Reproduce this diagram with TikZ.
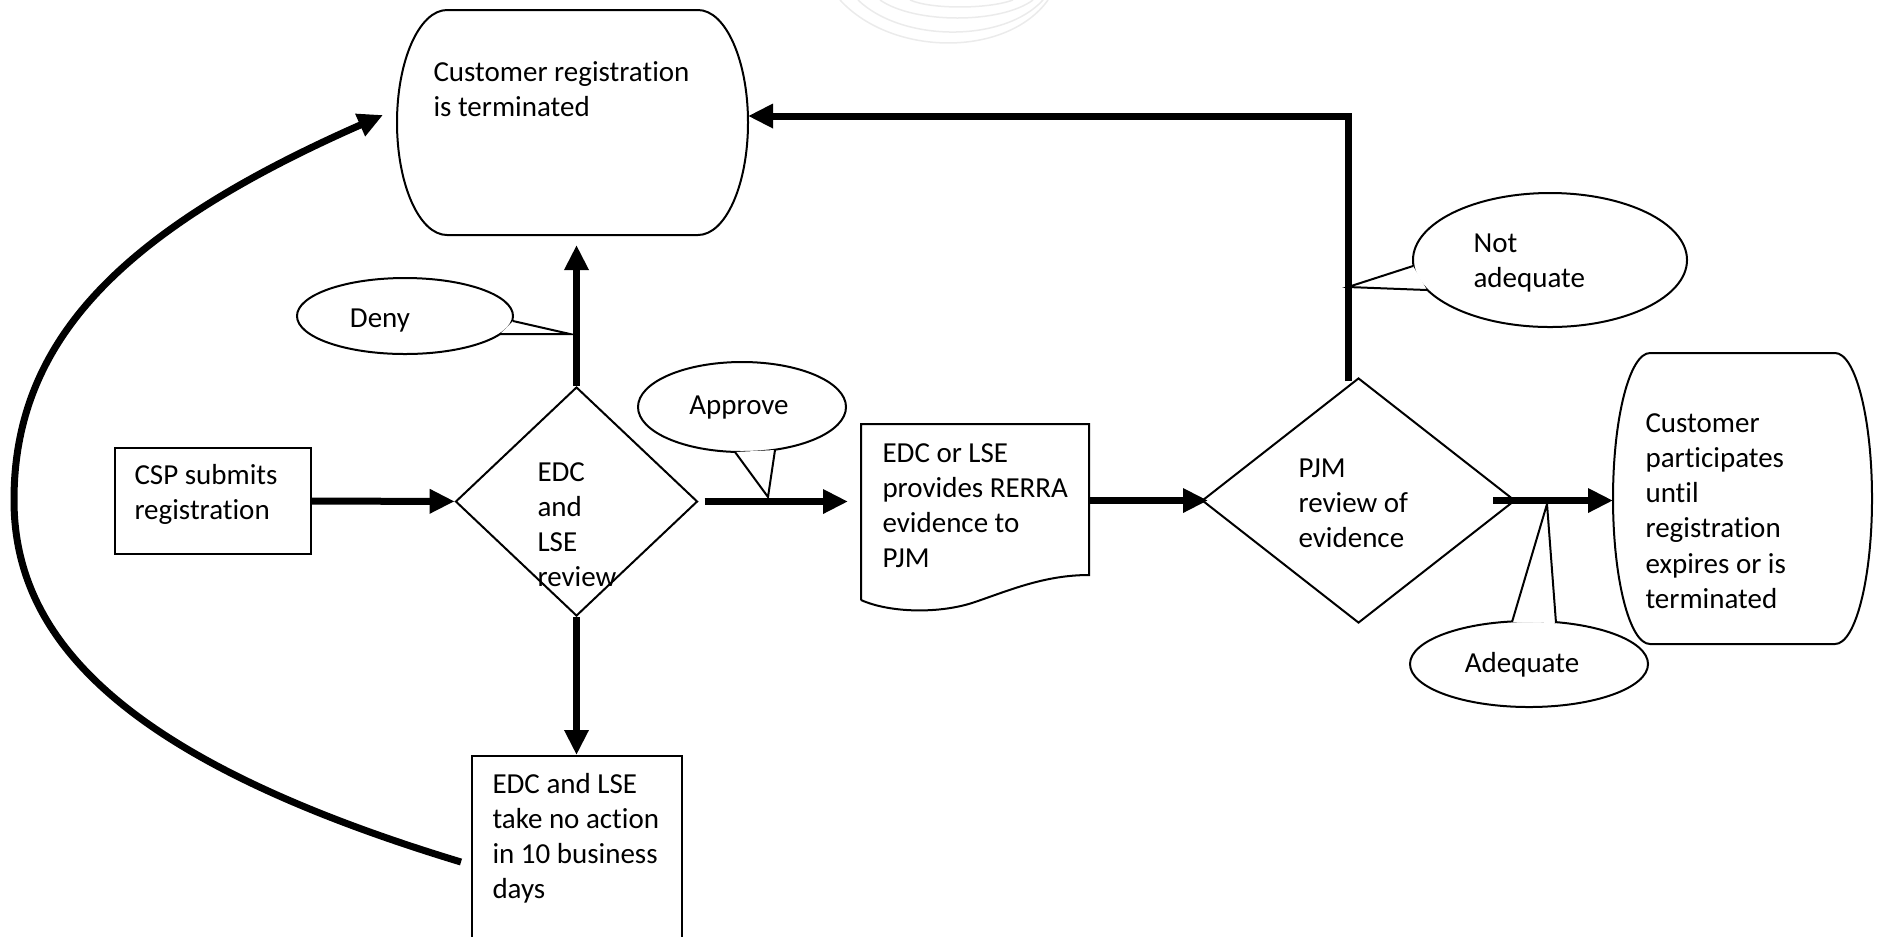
\documentclass[tikz,border=0pt]{standalone}
\usepackage{fontspec}
\setmainfont{Carlito}[Ligatures=NoCommon]
\usetikzlibrary{arrows.meta,shapes.geometric}
\newcommand\mytxt[1]{\begin{tabular}[t]{@{}l@{}}#1\end{tabular}}
\begin{document}
\begin{tikzpicture}[x=0.4pt,y=-0.4pt,
  shapeline/.style={line width=0.8pt},
  conn/.style={line width=2.8pt,-{Triangle[length=10pt,width=9.2pt]}},
  hold/.style={draw=none,inner sep=0,outer sep=0,rectangle},
  boxnode/.style={draw,line width=0.8pt,inner sep=0,rectangle},
  dia/.style={diamond,draw,line width=0.8pt,inner sep=0},
  bubble/.style={ellipse,draw,line width=0.8pt,fill=white,inner sep=0},
  txt/.style={inner sep=0,anchor=base west,font=\fontsize{11.6}{14.1}\selectfont},
  ctxt/.style={inner sep=0,anchor=base,font=\fontsize{11.6}{14.1}\selectfont},
  wmark/.style={gray!16,line width=0.6pt}]
\useasboundingbox (0,0) rectangle (1877,936);
\clip (0,0) rectangle (1877,936);

% faint watermark arcs
\draw[wmark] (840,0) .. controls (892.6,57.3) and (1007,57.3) .. (1048,0);
\draw[wmark] (858,0) .. controls (902.6,42.7) and (1004.3,42.7) .. (1043,0);
\draw[wmark] (880,0) .. controls (914.7,24) and (1000.6,24) .. (1033,0);
\draw[wmark] (910,0) .. controls (931,9.3) and (987.5,9.3) .. (1013,0);

% terminated
\node[hold,minimum width=140.4pt,minimum height=90pt] (T1) at (572.5,122.5) {};
\draw[shapeline] (698,10) .. controls (725.6,10) and (748,60.4) .. (748,122.5)
  .. controls (748,184.6) and (725.6,235) .. (698,235) -- (447,235)
  .. controls (419.4,235) and (397,184.6) .. (397,122.5)
  .. controls (397,60.4) and (419.4,10) .. (447,10) -- cycle;
\node[txt] (T1t) at (433,81) {\mytxt{Customer registration\\is terminated}};

% CSP box
\node[boxnode,minimum width=78.4pt,minimum height=42.4pt] (csp) at (213,501) {};
\node[txt] (cspt) at (134,484) {\mytxt{CSP submits\\registration}};

% diamond 1
\node[dia,minimum width=96.8pt,minimum height=91.6pt] (D1) at (576.5,501.5) {};
\node[txt] (D1t) at (537,481) {\mytxt{EDC\\and\\LSE\\review}};

% no action box
\node[boxnode,minimum width=84pt,minimum height=84.8pt] (B2) at (577,862) {};
\node[txt] (B2t) at (492,793) {\mytxt{EDC and LSE\\take no action\\in 10 business\\days}};

% document
\node[hold,minimum width=91.2pt,minimum height=74.4pt] (doc) at (975,517) {};
\draw[shapeline] (861,600) -- (861,424) -- (1089,424) -- (1089,575)
  .. controls (1045,575) and (1010,590) .. (975,602)
  .. controls (940,614) and (890,613) .. (861,600);
\node[txt] (doct) at (882,462) {\mytxt{EDC or LSE\\provides RERRA\\evidence to\\PJM}};

% diamond 2
\node[dia,minimum width=125.2pt,minimum height=98pt] (D2) at (1358.5,500.5) {};
\node[txt] (D2t) at (1298,477) {\mytxt{PJM\\review of\\evidence}};

% participates
\node[hold,minimum width=103.6pt,minimum height=116.4pt] (T2) at (1742.5,498.5) {};
\draw[shapeline] (1835,353) .. controls (1855.4,353) and (1872,418.2) .. (1872,498.5)
  .. controls (1872,578.8) and (1855.4,644) .. (1835,644) -- (1650,644)
  .. controls (1629.6,644) and (1613,578.8) .. (1613,498.5)
  .. controls (1613,418.2) and (1629.6,353) .. (1650,353) -- cycle;
\node[txt] (T2t) at (1645,432) {\mytxt{Customer\\participates\\until\\registration\\expires or is\\terminated}};

% callouts
\node[bubble,minimum width=86.4pt,minimum height=30.4pt] (deny) at (405,316) {};
\fill[white] (513,321) -- (570,334) -- (500,334) -- cycle;
\draw[shapeline] (513,321) -- (570,334) -- (500,334);
\node[ctxt] (denyt) at (380,327) {Deny};

\node[bubble,minimum width=83.2pt,minimum height=36pt] (appr) at (742,407) {};
\fill[white] (735,452) -- (768,497) -- (775,450) -- cycle;
\draw[shapeline] (735,452) -- (768,497) -- (775,450);
\node[ctxt] (apprt) at (739,414) {Approve};

\node[bubble,minimum width=109.6pt,minimum height=53.6pt] (nadq) at (1550,260) {};
\fill[white] (1413,266) -- (1348,287) -- (1427,290) -- cycle;
\draw[shapeline] (1413,266) -- (1348,287) -- (1427,290);
\node[txt] (nadqt) at (1473,252) {\mytxt{Not\\adequate}};

\node[bubble,minimum width=95.2pt,minimum height=34.4pt] (adq) at (1529,664) {};
\fill[white] (1512,622) -- (1547,504) -- (1556,623) -- cycle;
\draw[shapeline] (1512,622) -- (1547,504) -- (1556,623);
\node[ctxt] (adqt) at (1522,672) {Adequate};

% connectors
\draw[conn] (csp) -- (D1);
\draw[conn,shorten >=4pt] (D1.north) -- (D1.north |- T1.south);
\draw[conn,shorten <=2.4pt,shorten >=5.2pt] (D1.east) -- (D1.east -| doc.west);
\draw[conn,shorten >=-2.8pt] (D2.west -| doc.east) -- (D2.west);
\draw[conn] ([xshift=-4.2pt,yshift=-1.6pt]D2.north) |- ([yshift=2.6pt]T1.east);
\draw[conn] ([xshift=-9.2pt]D2.east) -- (D2.east -| T2.west);
\draw[conn] (D1.south) -- (D1.south |- B2.north);
\draw[conn] ([xshift=-4pt]B2.west) .. controls (121,759) and (14,638) .. (14,500)
  .. controls (14,341) and (120.4,230.7) .. ([xshift=-5.6pt,yshift=3pt]T1.west);
\end{tikzpicture}
\end{document}
